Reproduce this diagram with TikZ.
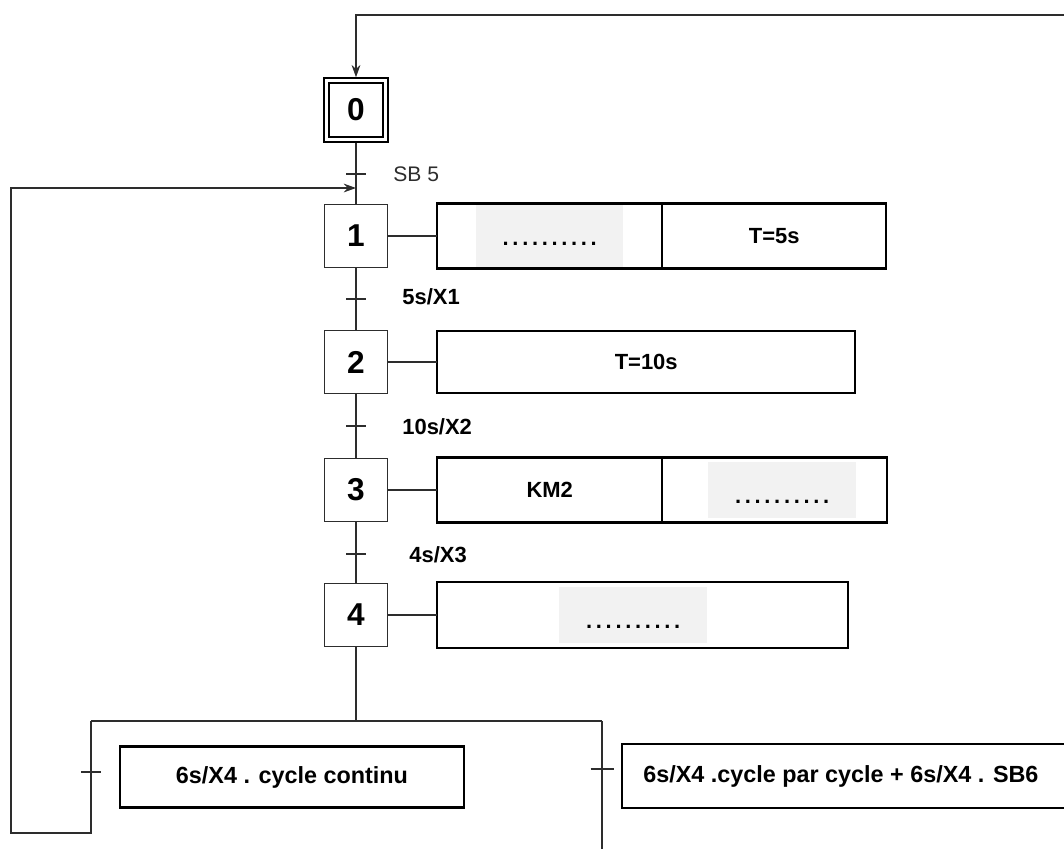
\documentclass[tikz,border=0pt]{standalone}
\usepackage{fontspec}
\setmainfont{Liberation Sans}
\usepackage{tikz}
\usetikzlibrary{arrows,arrows.meta,positioning,calc}
\definecolor{wire}{RGB}{45,45,45}
\definecolor{blankfill}{RGB}{242,242,242}
\newcommand{\blanks}{.\,.\,.\,.\,.\,.\,.\,.\,.\,.}

\begin{document}
\begin{tikzpicture}[
    x=0.02cm, y=-0.02cm,
    stepbox/.style={rectangle, draw=wire, line width=0.85pt, minimum width=1.26cm, minimum height=1.26cm, inner sep=0pt, font=\fontsize{18}{20}\selectfont\bfseries},
    initbox/.style={stepbox, draw=black, line width=1.1pt, double, double distance=1.5pt, minimum width=1.18cm, minimum height=1.18cm, outer sep=1.85pt},
    actbox/.style={rectangle, draw, line width=1.3pt, minimum height=1.3cm, inner sep=0pt, outer sep=0pt, font=\fontsize{12.5}{15}\selectfont\bfseries},
    hidebox/.style={fill=blankfill, inner sep=0pt, minimum width=2.95cm, text height=#1, text depth=0pt, font=\fontsize{12.5}{14}\selectfont\bfseries},
    condbox/.style={rectangle, draw, line width=1.3pt, minimum height=1.22cm, inner sep=0pt, font=\fontsize{13.3}{16}\selectfont\bfseries},
    cond/.style={font=\fontsize{12.5}{15}\selectfont\bfseries, inner sep=0pt, anchor=west},
    link/.style={draw=wire, line width=0.75pt},
    arrow/.style={-{Stealth[length=7pt, width=5pt]}, link},
    tickmark/.style={draw=wire, line width=1pt},
]
\path[use as bounding box, clip] (0,0) rectangle (1064,849);

% === STEPS ===
\node[initbox] (s0) at (356,110) {0};
\node[stepbox] (s1) at (356,236) {1};
\node[stepbox] (s2) at (356,362) {2};
\node[stepbox] (s3) at (356,490) {3};
\node[stepbox] (s4) at (356,615) {4};

% === ACTIONS ===
\node[actbox, minimum width=4.5cm, right=0.98cm of s1] (a1) {};
\node[hidebox=11pt, minimum height=1.24cm] (h1) at (a1.center) {\blanks};
\node[actbox, minimum width=4.48cm, right=0cm of a1] (a1t) {T=5s};

\node[actbox, minimum width=8.36cm, minimum height=1.24cm, right=0.98cm of s2] (a2) {T=10s};

\node[actbox, minimum width=4.5cm, right=0.98cm of s3] (a3) {KM2};
\node[actbox, minimum width=4.5cm, right=0cm of a3] (a3r) {};
\node[hidebox=15pt, minimum height=1.12cm] (h3) at ([xshift=0.15cm]a3r.center) {\blanks};

\node[actbox, minimum width=8.22cm, minimum height=1.32cm, right=0.98cm of s4] (a4) {};
\node[hidebox=15pt, minimum height=1.12cm] (h4) at ([xshift=-0.19cm]a4.center) {\blanks};

% === LINKS ===
\draw[link] (s0) -- (s1);
\draw[link] (s1) -- (s2);
\draw[link] (s2) -- (s3);
\draw[link] (s3) -- (s4);
\draw[link] (s1.east) -- (s1.east -| a1.west);
\draw[link] (s2.east) -- (s2.east -| a2.west);
\draw[link] (s3.east) -- (s3.east -| a3.west);
\draw[link] (s4.east) -- (s4.east -| a4.west);

% === TRANSITIONS ===
\coordinate (t0) at ($(s0.south)!0.5!(s1.north)+(0,0.5)$);
\coordinate (t1) at ($(s1.south)!0.5!(s2.north)$);
\coordinate (t2) at ($(s2.south)!0.5!(s3.north)$);
\coordinate (t3) at ($(s3.south)!0.5!(s4.north)+(0,1.5)$);
\draw[tickmark] ([xshift=-0.2cm]t0) -- ([xshift=0.2cm]t0);
\draw[tickmark] ([xshift=-0.2cm]t1) -- ([xshift=0.2cm]t1);
\draw[tickmark] ([xshift=-0.2cm]t2) -- ([xshift=0.2cm]t2);
\draw[tickmark] ([xshift=-0.2cm]t3) -- ([xshift=0.2cm]t3);

\node[cond, text=wire, font=\fontsize{12}{14}\selectfont] (c0) at (393,174) {SB 5};
\node[cond] (c1) at (402,297) {5s/X1};
\node[cond] (c2) at (402,427) {10s/X2};
\node[cond] (c3) at (409,555) {4s/X3};

% === LOOPS ===
\coordinate (topright) at (1064,15);
\coordinate (div) at (356,721);
\coordinate (jl) at (91,721);
\coordinate (jr) at (602,721);
\coordinate (back) at (356,188);
\coordinate (exit) at (602,849);
\coordinate (tl) at (91,772);
\coordinate (tr) at (602,769);

\draw[arrow] (topright) -| (s0.north);
\draw[link] (s4) -- (div);
\draw[link] (jl) -- (jr);
\draw[arrow] (jl) -- ++(0,112) -- ++(-80,0) |- (back);
\draw[link] (jr) -- (exit);
\draw[tickmark] ([xshift=-0.2cm]tl) -- ([xshift=0.2cm]tl);
\draw[tickmark] ([xshift=-0.23cm]tr) -- ([xshift=0.23cm]tr);

% === CONDITIONS ===
\node[condbox, minimum width=6.88cm] (b1) at (292,777) {6s/X4 . cycle continu};
\node[condbox, minimum height=1.28cm, minimum width=9.2cm, anchor=west] (b2) at (621,776) {};
\node[anchor=west, inner sep=0pt, font=\fontsize{13.3}{16}\selectfont\bfseries] (b2t) at ([xshift=0.44cm]b2.west) {6s/X4 .cycle par cycle + 6s/X4 . SB6};

\end{tikzpicture}
\end{document}
